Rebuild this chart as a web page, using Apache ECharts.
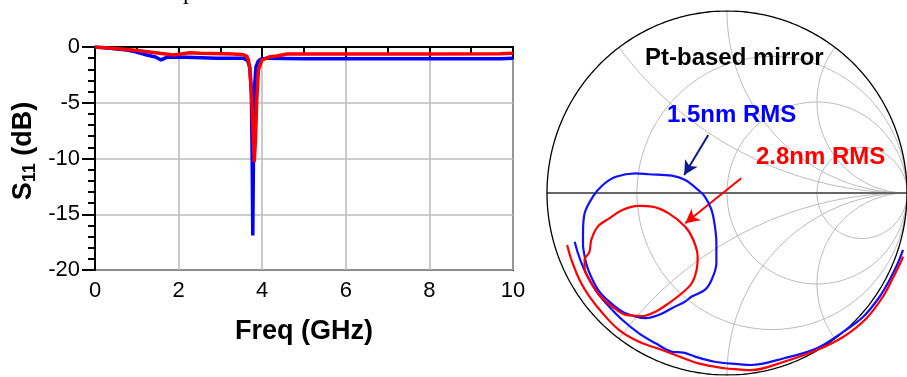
<!DOCTYPE html>
<html>
<head>
<meta charset="utf-8">
<script src="https://cdn.jsdelivr.net/npm/echarts@6/dist/echarts.min.js"></script>
<style>
  html, body { margin: 0; padding: 0; background: #fff; }
  #chart { width: 907px; height: 377px; }
</style>
</head>
<body>
<div id="chart"></div>
<script>
// ---- S11 (dB) versus frequency (GHz) ----
const freqBlue = [0, 0.3, 0.76, 1.0, 1.24, 1.45, 1.58, 1.7, 1.78, 2.19, 2.91, 3.55, 3.65, 3.7, 3.74, 3.76, 3.775, 3.79, 3.81, 3.85, 3.9, 3.97, 4.11, 5, 7, 9.7, 10];
const s11Blue  = [0, -0.1, -0.27, -0.45, -0.72, -0.9, -1.16, -0.95, -0.9, -0.93, -1.0, -1.0, -1.2, -1.8, -4.0, -10, -16.9, -10, -4, -1.8, -1.3, -1.1, -1.0, -1.05, -1.05, -1.05, -1.0];

const freqRed = [0, 0.4, 0.9, 1.3, 1.55, 1.87, 2.1, 2.27, 2.51, 3.31, 3.55, 3.63, 3.67, 3.71, 3.75, 3.79, 3.81, 3.84, 3.87, 3.91, 3.99, 4.19, 4.35, 4.59, 6, 8, 9.7, 10];
const s11Red  = [0, -0.12, -0.27, -0.45, -0.57, -0.72, -0.6, -0.51, -0.57, -0.63, -0.7, -0.81, -1.17, -2.06, -4.75, -8.3, -10.3, -8.3, -4.75, -2.06, -1.17, -0.87, -0.81, -0.63, -0.62, -0.62, -0.6, -0.57];

// ---- Reflection coefficient on the Smith chart (real, imaginary) ----
// 1.5nm RMS: resonance loop and the track near the rim
const loopBlueRe  = [-0.800, -0.800, -0.791, -0.745, -0.690, -0.617, -0.507, -0.434, -0.306, -0.232, -0.159, -0.123, -0.086, -0.067, -0.059, -0.059, -0.086, -0.123, -0.196, -0.232, -0.306, -0.379, -0.452, -0.507, -0.581, -0.654, -0.709, -0.755, -0.782, -0.800];
const loopBlueIm  = [-0.295, -0.222, -0.112, -0.020, 0.044, 0.089, 0.108, 0.103, 0.095, 0.071, 0.016, -0.020, -0.093, -0.185, -0.276, -0.386, -0.478, -0.532, -0.569, -0.596, -0.633, -0.670, -0.688, -0.679, -0.652, -0.597, -0.542, -0.460, -0.387, -0.295];
const trackBlueRe = [-0.846, -0.828, -0.800, -0.764, -0.718, -0.654, -0.581, -0.489, -0.397, -0.306, -0.242, -0.177, -0.068, 0.060, 0.134, 0.317, 0.500, 0.647, 0.757, 0.848, 0.903, 0.949, 0.978];
const trackBlueIm = [-0.268, -0.331, -0.405, -0.478, -0.551, -0.625, -0.698, -0.771, -0.826, -0.872, -0.877, -0.899, -0.927, -0.940, -0.945, -0.908, -0.853, -0.762, -0.680, -0.570, -0.478, -0.386, -0.313];

// 2.8nm RMS
const loopRedRe  = [-0.791, -0.764, -0.754, -0.718, -0.654, -0.581, -0.489, -0.416, -0.324, -0.232, -0.187, -0.163, -0.169, -0.196, -0.251, -0.324, -0.397, -0.471, -0.562, -0.636, -0.709, -0.764, -0.791, -0.791];
const loopRedIm  = [-0.359, -0.323, -0.258, -0.185, -0.139, -0.093, -0.071, -0.075, -0.112, -0.185, -0.258, -0.350, -0.423, -0.496, -0.551, -0.606, -0.652, -0.676, -0.670, -0.625, -0.560, -0.478, -0.412, -0.359];
const trackRedRe = [-0.888, -0.864, -0.819, -0.764, -0.691, -0.599, -0.489, -0.361, -0.287, -0.159, -0.013, 0.060, 0.134, 0.317, 0.500, 0.647, 0.775, 0.866, 0.921, 0.967, 0.978];
const trackRedIm = [-0.286, -0.368, -0.478, -0.570, -0.661, -0.753, -0.817, -0.863, -0.890, -0.936, -0.963, -0.969, -0.973, -0.927, -0.863, -0.790, -0.688, -0.570, -0.469, -0.377, -0.350];

// Smith chart grid values
const resistanceValues = [1 / 3, 1, 3];
const reactanceValues  = [0.5, 1, 2, -0.5, -1, -2];

const FONT = '"Liberation Sans", Arial, Helvetica, sans-serif';
const zip = (a, b) => a.map((v, i) => [v, b[i]]);

function resistanceCircle(r) {
  const c = r / (1 + r), rad = 1 / (1 + r), pts = [];
  for (let i = 0; i <= 360; i++) {
    const a = i * Math.PI / 180;
    pts.push([c + rad * Math.cos(a), rad * Math.sin(a)]);
  }
  return pts;
}
function reactanceArc(x) {
  const pts = [];
  for (let i = 0; i <= 600; i++) {
    const r = Math.tan(i / 600 * Math.PI / 2 * 0.9995);
    const den = (r + 1) * (r + 1) + x * x;
    pts.push([(r * r + x * x - 1) / den, 2 * x / den]);
  }
  pts.push([1, 0]);
  return pts;
}
function unitCircle() {
  const pts = [];
  for (let i = 0; i <= 720; i++) {
    const a = i * Math.PI / 360;
    pts.push([Math.cos(a), Math.sin(a)]);
  }
  return pts;
}

const smithGridStyle = { color: '#b9b9b9', width: 1 };
function smithLine(data, lineStyle, z) {
  return {
    type: 'line', xAxisIndex: 1, yAxisIndex: 1, data: data,
    showSymbol: false, symbol: 'none', silent: true, z: z || 1,
    lineStyle: lineStyle, animation: false
  };
}

const series = [
  {
    name: '1.5nm RMS', type: 'line', data: zip(freqBlue, s11Blue),
    showSymbol: false, symbol: 'none',
    lineStyle: { color: '#0000ff', width: 3.5 }, z: 3
  },
  {
    name: '2.8nm RMS', type: 'line', data: zip(freqRed, s11Red),
    showSymbol: false, symbol: 'none',
    lineStyle: { color: '#ff0000', width: 3.5 }, z: 4
  }
];

resistanceValues.forEach(r => series.push(smithLine(resistanceCircle(r), smithGridStyle)));
reactanceValues.forEach(x => series.push(smithLine(reactanceArc(x), smithGridStyle)));
series.push(smithLine([[-1, 0], [1, 0]], { color: '#666', width: 2 }, 2));
series.push(smithLine(unitCircle(), { color: '#000', width: 1.3 }, 2));

// measured traces
series.push(Object.assign(smithLine(
  zip(loopBlueRe, loopBlueIm).concat(['-'], zip(trackBlueRe, trackBlueIm)),
  { color: '#1010ff', width: 2.2 }, 5), { smooth: 0.35, connectNulls: false,
  markLine: {
    silent: true, symbol: ['none', 'arrow'], symbolSize: [11, 14],
    label: { show: false },
    lineStyle: { color: '#0c1a8c', width: 2, type: 'solid' },
    data: [[{ coord: [-0.104, 0.319] }, { coord: [-0.238, 0.099] }]]
  } }));
series.push(Object.assign(smithLine(
  zip(loopRedRe, loopRedIm).concat(['-'], zip(trackRedRe, trackRedIm)),
  { color: '#ff0000', width: 2.2 }, 5), { smooth: 0.35, connectNulls: false,
  markLine: {
    silent: true, symbol: ['none', 'arrow'], symbolSize: [11, 14],
    label: { show: false },
    lineStyle: { color: '#ff0000', width: 2, type: 'solid' },
    data: [[{ coord: [0.079, 0.081] }, { coord: [-0.232, -0.166] }]]
  } }));

const chart = echarts.init(document.getElementById('chart'), null, { renderer: 'canvas' });
chart.setOption({
  animation: false,
  backgroundColor: '#fff',
  grid: [
    { left: 95, right: 394, top: 47, bottom: 107, show: true, borderColor: '#000', borderWidth: 2 },
    { left: 547, top: 11, width: 364, height: 364 }
  ],
  xAxis: [
    {
      type: 'value', min: 0, max: 10, interval: 2,
      name: 'Freq (GHz)', nameLocation: 'middle', nameGap: 48,
      nameTextStyle: { fontFamily: FONT, fontSize: 27, fontWeight: 'bold', color: '#000' },
      axisLine: { lineStyle: { color: '#000', width: 2 } },
      axisTick: { show: true, length: 12, lineStyle: { color: '#000', width: 2 } },
      minorTick: { show: true, splitNumber: 2, length: 7, lineStyle: { color: '#000', width: 2 } },
      axisLabel: { fontFamily: FONT, fontSize: 22, color: '#000', margin: 10 },
      splitLine: { show: true, lineStyle: { color: '#bdbdbd', width: 1.6 } }
    },
    { type: 'value', gridIndex: 1, min: -1, max: 1, show: false }
  ],
  yAxis: [
    {
      type: 'value', min: -20, max: 0, interval: 5,
      name: '{m|S}{sub|11}{m| (dB)}', nameLocation: 'middle', nameGap: 56,
      nameTextStyle: {
        padding: [0, 0, 0, 15],
        rich: {
          m: { fontFamily: FONT, fontSize: 27, fontWeight: 'bold', color: '#000', lineHeight: 30 },
          sub: { fontFamily: FONT, fontSize: 18, fontWeight: 'bold', color: '#000', lineHeight: 18, verticalAlign: 'bottom' }
        }
      },
      axisLine: { lineStyle: { color: '#000', width: 2 } },
      axisTick: { show: true, length: 13, lineStyle: { color: '#000', width: 2 } },
      minorTick: { show: true, splitNumber: 5, length: 7, lineStyle: { color: '#000', width: 2 } },
      axisLabel: { fontFamily: FONT, fontSize: 22, color: '#000', margin: 15 },
      splitLine: { show: true, lineStyle: { color: '#bdbdbd', width: 1.6 } }
    },
    { type: 'value', gridIndex: 1, min: -1, max: 1, show: false }
  ],
  graphic: [
    { type: 'text', x: 183, y: 5, z: 100, style: { text: 'p', font: '24px "Liberation Serif", serif', fill: '#000', verticalAlign: 'bottom' } },
    { type: 'text', x: 645, y: 58, z: 100, style: { text: 'Pt-based mirror', font: 'bold 24px ' + FONT, fill: '#000', verticalAlign: 'middle' } },
    { type: 'text', x: 667, y: 115.5, z: 100, style: { text: '1.5nm RMS', font: 'bold 24px ' + FONT, fill: '#0000ff', verticalAlign: 'middle' } },
    { type: 'text', x: 756, y: 157, z: 100, style: { text: '2.8nm RMS', font: 'bold 24px ' + FONT, fill: '#ff0000', verticalAlign: 'middle' } }
  ],
  series: series
});
</script>
</body>
</html>
